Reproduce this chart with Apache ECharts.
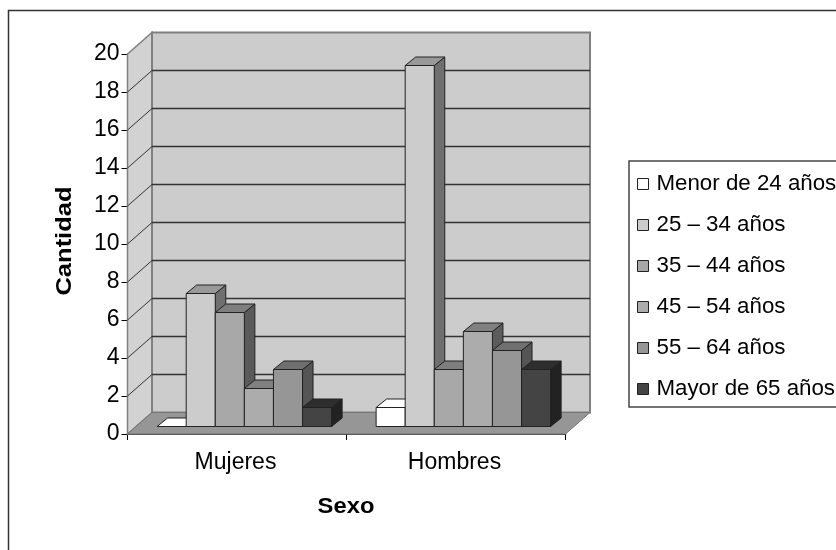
<!DOCTYPE html>
<html>
<head>
<meta charset="utf-8">
<style>
  html, body { margin: 0; padding: 0; background: #fff; }
  #main { width: 836px; height: 550px; }
</style>
<script src="https://cdn.jsdelivr.net/npm/echarts@6/dist/echarts.min.js"></script>
</head>
<body>
<div id="main"></div>
<script>
var categories = ["Mujeres", "Hombres"];
var ageGroups = ["Menor de 24 años", "25 – 34 años", "35 – 44 años", "45 – 54 años", "55 – 64 años", "Mayor de 65 años"];
var menor24 = [0, 1];
var de25a34 = [7, 19];
var de35a44 = [6, 3];
var de45a54 = [2, 5];
var de55a64 = [3, 4];
var mayor65 = [1, 3];
var yTicks = [0, 2, 4, 6, 8, 10, 12, 14, 16, 18, 20];
var allValues = [menor24, de25a34, de35a44, de45a54, de55a64, mayor65];

// colores: frente, tapa, lado
var frontColors = ["#ffffff", "#cccccc", "#a8a8a8", "#acacac", "#969696", "#444444"];
var topColors = ["#ffffff", "#999999", "#7e7e7e", "#808080", "#707070", "#2e2e2e"];
var sideColors = ["#ffffff", "#6f6f6f", "#5a5a5a", "#5c5c5c", "#555555", "#222222"];

var FONT = "Liberation Sans";
var WALL_DX = 24.5, WALL_DY = -21.5;  // fondo del grafico 3d
var BAR_DX = 7.8, BAR_DY = -7.5;      // donde apoya la barra
var DEPTH_DX = 10.5, DEPTH_DY = -8.5; // profundidad de la barra

function poly(points, fill, stroke, width) {
  return {
    type: "polygon",
    shape: { points: points },
    style: { fill: fill, stroke: stroke || "#222", lineWidth: width || 1 }
  };
}

function line(x1, y1, x2, y2, color, width) {
  return {
    type: "line",
    shape: { x1: x1, y1: y1, x2: x2, y2: y2 },
    style: { stroke: color, lineWidth: width, fill: null }
  };
}

function renderWalls(params, api) {
  var cs = params.coordSys;
  var value = api.value(1);
  var y = api.coord([0, value])[1];
  var left = cs.x, right = cs.x + cs.width;
  var children = [];
  if (params.dataIndex === 0) {
    var top = cs.y, bottom = cs.y + cs.height;
    children.push(poly([[left, top], [left + WALL_DX, top + WALL_DY], [left + WALL_DX, bottom + WALL_DY], [left, bottom]], "#d2d2d2", "#808080", 1.5));
    children.push(poly([[left + WALL_DX, top + WALL_DY], [right + WALL_DX, top + WALL_DY], [right + WALL_DX, bottom + WALL_DY], [left + WALL_DX, bottom + WALL_DY]], "#cccccc", "#808080", 2));
    children.push(poly([[left, bottom], [left + WALL_DX, bottom + WALL_DY], [right + WALL_DX, bottom + WALL_DY], [right, bottom]], "#969696", "#777777", 1));
  } else if (value < 20) {
    children.push(line(left, y, left + WALL_DX, y + WALL_DY, "#333", 1));
    children.push(line(left + WALL_DX, y + WALL_DY, right + WALL_DX, y + WALL_DY, "#333", 1.5));
  }
  return { type: "group", children: children };
}

function makeBarRender(idx) {
  return function (params, api) {
    var base = api.coord([api.value(0), 0]);
    var head = api.coord([api.value(0), api.value(1)]);
    var band = api.size([1, 0])[0];
    var barW = band / 7.53;
    var x0 = base[0] - band / 2 + barW * 0.75 + barW * idx + BAR_DX;
    var x1 = x0 + barW;
    var yb = base[1] + BAR_DY;
    var yt = head[1] + BAR_DY;
    return {
      type: "group",
      children: [
        poly([[x1, yb], [x1 + DEPTH_DX, yb + DEPTH_DY], [x1 + DEPTH_DX, yt + DEPTH_DY], [x1, yt]], sideColors[idx]),
        poly([[x0, yt], [x0 + DEPTH_DX, yt + DEPTH_DY], [x1 + DEPTH_DX, yt + DEPTH_DY], [x1, yt]], topColors[idx]),
        poly([[x0, yb], [x1, yb], [x1, yt], [x0, yt]], frontColors[idx])
      ]
    };
  };
}

var series = [{
  name: "paredes",
  type: "custom",
  silent: true,
  z: 1,
  renderItem: renderWalls,
  data: yTicks.map(function (v) { return [0, v]; }),
  encode: { x: 0, y: 1 }
}];

ageGroups.forEach(function (name, i) {
  series.push({
    name: name,
    type: "custom",
    z: 2 + i,
    itemStyle: { color: frontColors[i] },
    renderItem: makeBarRender(i),
    data: allValues[i].map(function (v, c) { return [c, v]; }),
    encode: { x: 0, y: 1 }
  });
});

var chart = echarts.init(document.getElementById("main"), null, { renderer: "canvas" });
chart.setOption({
  animation: false,
  backgroundColor: "#fff",
  textStyle: { fontFamily: FONT },
  grid: { left: 127.5, top: 54, width: 438, height: 380 },
  graphic: [
    {
      type: "rect",
      silent: true,
      z: 0,
      shape: { x: 8.5, y: 10.5, width: 900, height: 600 },
      style: { fill: "#fff", stroke: "#333", lineWidth: 1.5 }
    },
    {
      type: "text",
      x: 346,
      y: 507,
      scaleX: 1.08,
      style: { text: "Sexo", font: "bold 22px " + FONT, fill: "#000", align: "center", verticalAlign: "middle" }
    },
    {
      type: "text",
      x: 65,
      y: 241,
      rotation: Math.PI / 2,
      scaleX: 1.16,
      style: { text: "Cantidad", font: "bold 22px " + FONT, fill: "#000", align: "center", verticalAlign: "middle" }
    }
  ],
  legend: {
    orient: "vertical",
    left: 629,
    top: 161,
    padding: [12, 40, 7, 8],
    itemWidth: 11,
    itemHeight: 11,
    itemGap: 19,
    backgroundColor: "#fff",
    borderColor: "#444",
    borderWidth: 1.5,
    selectedMode: false,
    textStyle: { fontFamily: FONT, fontSize: 22.3, color: "#000", padding: [0, 0, 0, 3] },
    data: ageGroups.map(function (name, i) {
      return { name: name, icon: "rect", itemStyle: { color: frontColors[i], borderColor: "#222", borderWidth: 1 } };
    })
  },
  xAxis: {
    type: "category",
    data: categories,
    axisLine: { lineStyle: { color: "#000", width: 1.5 } },
    axisTick: { show: true, length: 6, lineStyle: { color: "#000" } },
    axisLabel: { fontFamily: FONT, fontSize: 23, color: "#000", margin: 17, padding: [0, 3, 0, 0] },
    splitLine: { show: false }
  },
  yAxis: {
    type: "value",
    min: 0,
    max: 20,
    interval: 2,
    axisLine: { show: true, lineStyle: { color: "#000", width: 1.5 } },
    axisTick: { show: true, length: 6, lineStyle: { color: "#000" } },
    axisLabel: { fontFamily: FONT, fontSize: 23, color: "#000", margin: 8 },
    splitLine: { show: false }
  },
  series: series
});
</script>
</body>
</html>
